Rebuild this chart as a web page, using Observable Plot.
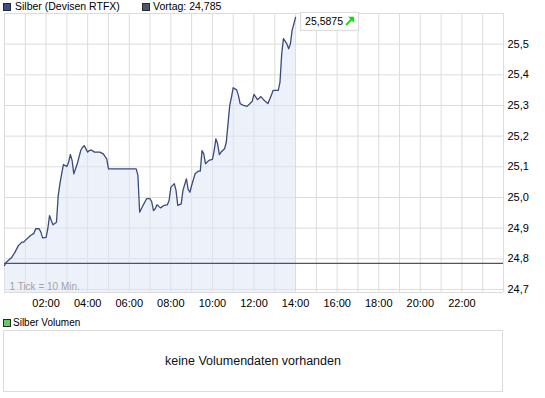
<!DOCTYPE html>
<html>
<head>
<meta charset="utf-8">
<script src="https://cdn.jsdelivr.net/npm/d3@7"></script>
<script src="https://cdn.jsdelivr.net/npm/@observablehq/plot@0.6"></script>
<style>
  html, body { margin: 0; padding: 0; background: #fff; }
  #wrap { position: relative; width: 545px; height: 398px; font-family: "Liberation Sans", Arial, sans-serif; color: #000; overflow: hidden; }
  .sw { position: absolute; box-sizing: border-box; width: 8px; height: 8px; border: 1px solid #2a2a2a; }
  .lbl { position: absolute; font-size: 10.5px; line-height: 13px; white-space: nowrap; }
  #chart { position: absolute; left: 0; top: 0; }
  #volbox { position: absolute; left: 3px; top: 330px; width: 500px; height: 62px; box-sizing: border-box; border: 1px solid #dcdcdc; display: flex; align-items: center; justify-content: center; font-size: 12.5px; color: #111; }
</style>
</head>
<body>
<div id="wrap">
  <div id="chart"></div>
  <span class="sw" style="left:3px;top:3px;background:#3e5081"></span>
  <span class="lbl" id="seriesName" style="left:15px;top:0px"></span>
  <span class="sw" style="left:142px;top:3px;background:#50556f"></span>
  <span class="lbl" id="vortagLbl" style="left:153px;top:0px"></span>
  <span class="sw" style="left:3px;top:319px;background:#62cc62"></span>
  <span class="lbl" id="volName" style="left:13px;top:316px;font-size:10px"></span>
  <div id="volbox"></div>
</div>
<script>
// ---- data ----
const seriesName = "Silber (Devisen RTFX)";
const volumeName = "Silber Volumen";
const noVolumeText = "keine Volumendaten vorhanden";
const tickNote = "1 Tick = 10 Min.";
const vortag = 24.785;

// minutes since midnight
const minutes = [0,5,20,30,40,50,55,60,70,75,85,90,100,105,110,120,125,130,135,140,150,155,160,165,170,180,185,190,195,200,210,220,225,230,240,245,250,260,270,275,285,295,300,380,385,390,395,405,410,420,425,430,435,440,450,460,470,475,480,490,495,500,510,515,525,530,535,540,550,560,565,570,575,580,590,600,605,610,615,620,625,635,640,645,650,655,660,670,675,680,690,700,715,720,730,740,750,760,770,775,790,795,800,805,815,820,825,830,840];
const values = [24.778,24.789,24.803,24.821,24.843,24.854,24.854,24.860,24.870,24.876,24.883,24.898,24.898,24.887,24.868,24.870,24.898,24.941,24.925,24.911,24.919,25.006,25.045,25.077,25.107,25.101,25.115,25.140,25.121,25.077,25.110,25.153,25.164,25.169,25.148,25.153,25.155,25.148,25.148,25.148,25.142,25.126,25.093,25.093,25.072,24.952,24.963,24.985,24.996,24.996,24.985,24.957,24.963,24.976,24.966,24.974,24.976,24.990,25.033,25.045,25.023,24.974,24.979,25.023,25.061,25.026,25.017,25.039,25.077,25.086,25.086,25.153,25.142,25.110,25.121,25.124,25.153,25.191,25.175,25.140,25.148,25.159,25.180,25.240,25.300,25.327,25.358,25.351,25.333,25.306,25.300,25.297,25.314,25.336,25.319,25.329,25.316,25.306,25.333,25.349,25.349,25.376,25.469,25.518,25.501,25.485,25.501,25.545,25.5875];

const xTickHours = [2,4,6,8,10,12,14,16,18,20,22];
const xTickLabels = ["02:00","04:00","06:00","08:00","10:00","12:00","14:00","16:00","18:00","20:00","22:00"];
const yTicks = [24.7,24.8,24.9,25.0,25.1,25.2,25.3,25.4,25.5];
const yGrid = [24.7,24.8,24.9,25.0,25.1,25.2,25.3,25.4,25.5,25.6];
const xGrid = d3.range(0, 25);
const yDomain = [24.69, 25.6];

const fmt = (v, d) => v.toFixed(d).replace(".", ",");
const data = minutes.map((m, i) => ({h: m / 60, v: values[i]}));
const last = data[data.length - 1];

document.getElementById("seriesName").textContent = seriesName;
document.getElementById("vortagLbl").textContent = "Vortag: " + fmt(vortag, 3);
document.getElementById("volName").textContent = volumeName;
document.getElementById("volbox").textContent = noVolumeText;

function valueBox(index, scales) {
  const px = scales.x(last.h), py = scales.y(last.v);
  const g = d3.create("svg:g");
  const bx = px + 5, by = py - 5;
  g.append("rect").attr("x", bx + 0.5).attr("y", by + 0.5).attr("width", 58).attr("height", 18)
    .attr("fill", "#fff").attr("stroke", "#d8d8d8");
  g.append("text").attr("x", bx + 5).attr("y", by + 13.5).attr("font-size", 10.5).attr("fill", "#000")
    .attr("text-anchor", "start")
    .text(fmt(last.v, 4));
  const ax = bx + 46, ay = by + 5;
  g.append("path").attr("d", `M${ax},${ay + 8} L${ax + 6},${ay + 2}`).attr("stroke", "#00e600").attr("stroke-width", 2).attr("fill", "none");
  g.append("path").attr("d", `M${ax + 2},${ay} L${ax + 8},${ay} L${ax + 8},${ay + 6} Z`).attr("fill", "#00e600");
  return g.node();
}

const chart = Plot.plot({
  width: 545,
  height: 312,
  marginLeft: 4,
  marginRight: 42,
  marginTop: 13,
  marginBottom: 20,
  style: {fontFamily: "'Liberation Sans', Arial, sans-serif", fontSize: "11px", background: "transparent", overflow: "visible", color: "#000"},
  x: {domain: [0, 24], ticks: xTickHours, tickFormat: (h) => xTickLabels[xTickHours.indexOf(h)], tickSize: 0, tickPadding: 7, label: null},
  y: {domain: yDomain, axis: "right", ticks: yTicks, tickFormat: (v) => fmt(v, 1), tickSize: 0, tickPadding: 4, label: null},
  marks: [
    Plot.ruleX(xGrid, {stroke: "#dcdcdc", strokeWidth: 1}),
    Plot.ruleY(yGrid, {stroke: "#dcdcdc", strokeWidth: 1}),
    Plot.ruleY([yDomain[0]], {stroke: "#dcdcdc", strokeWidth: 1}),
    Plot.areaY(data, {x: "h", y1: yDomain[0], y2: "v", fill: "#dfe5f6", fillOpacity: 0.55, curve: "linear"}),
    Plot.ruleY([vortag], {stroke: "#4b5172", strokeWidth: 1.3}),
    Plot.lineY(data, {x: "h", y: "v", stroke: "#3c4b7c", strokeWidth: 1.3, curve: "linear"}),
    Plot.text([tickNote], {frameAnchor: "bottom-left", dx: 5, dy: -3, lineAnchor: "bottom", fill: "#a3a3a3", fontSize: 10}),
    valueBox
  ]
});
document.getElementById("chart").appendChild(chart);
</script>
</body>
</html>
